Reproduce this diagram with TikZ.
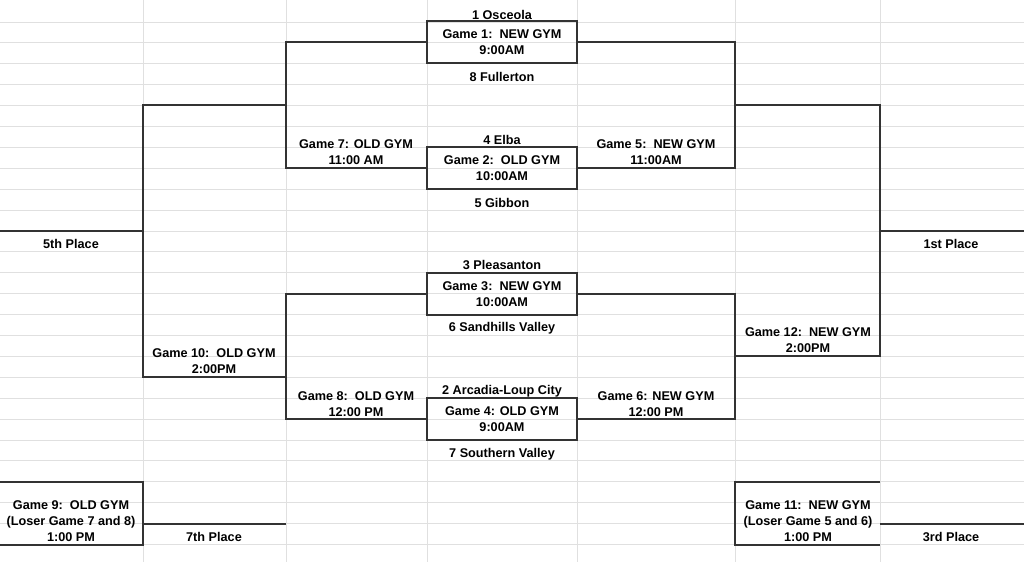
\documentclass[tikz,border=0pt]{standalone}
\usepackage{fontspec}
\setmainfont{Liberation Sans}
\usetikzlibrary{positioning}
\tikzset{
  bracket/.style={draw=black!80,line width=1pt},
  gamebox/.style={bracket,rectangle,minimum width=150*0.75pt,minimum height=42*0.75pt,inner sep=0pt,align=center},
  lbl/.style={font=\bfseries\fontsize{9.5}{12}\selectfont,inner sep=0pt,align=center},
  cellgrid/.style={draw=black!12,line width=0.6pt}
}
\begin{document}
\begin{tikzpicture}[x=0.75pt,y=-0.75pt]
    \useasboundingbox (0,0) rectangle (1024,562);
    % spreadsheet grid
    \foreach \k in {1,...,26} {\draw[cellgrid] (0,{1+20.9*\k}) -- (1024,{1+20.9*\k});}
    \foreach \c in {143,286,427,577,735,880} {\draw[cellgrid] (\c,0) -- (\c,562);}

    % first round
    \node[gamebox,lbl] (g1) at (502,42) {Game 1:\ \ NEW GYM\\9:00AM};
    \node[gamebox,lbl] (g2) at (502,168) {Game 2:\ \ OLD GYM\\10:00AM};
    \node[gamebox,lbl] (g3) at (502,294) {Game 3:\ \ NEW GYM\\10:00AM};
    \node[gamebox,lbl] (g4) at (502,419) {Game 4: OLD GYM\\9:00AM};
    \node[lbl] (t1) at (502,15) {1 Osceola};
    \node[lbl] (t8) at (502,77) {8 Fullerton};
    \node[lbl] (t4) at (502,140) {4 Elba};
    \node[lbl] (t5) at (502,203) {5 Gibbon};
    \node[lbl] (t3) at (502,265) {3 Pleasanton};
    \node[lbl] (t6) at (502,328) {6 Sandhills Valley};
    \node[lbl] (t2) at (502,391) {2 Arcadia-Loup City};
    \node[lbl] (t7) at (502,454) {7 Southern Valley};

    % left side
    \coordinate (c7) at (286,105);
    \coordinate (c8) at (286,357);
    \coordinate (c10) at (143,231);
    \draw[bracket] (g1.west) -| (c7) |- (g2.west);
    \draw[bracket] (g3.west) -| (c8) |- (g4.west);
    \draw[bracket] (c7) -| (c10) |- (c8 |- 0,377);
    \draw[bracket] (c10) -- (0,231);
    \node[lbl] (l7) at (356,152) {Game 7: OLD GYM\\11:00 AM};
    \node[lbl] (l8) at (356,404) {Game 8:\ \ OLD GYM\\12:00 PM};
    \node[lbl] (l10) at (214,361) {Game 10:\ \ OLD GYM\\2:00PM};
    \node[lbl] (p5) at (71,244) {5th Place};

    % right side
    \coordinate (c5) at (735,105);
    \coordinate (c6) at (735,357);
    \coordinate (c12) at (880,231);
    \draw[bracket] (g1.east) -| (c5) |- (g2.east);
    \draw[bracket] (g3.east) -| (c6) |- (g4.east);
    \draw[bracket] (c5) -| (c12) |- (c6 |- 0,356);
    \draw[bracket] (c12) -- (1024,231);
    \node[lbl] (l5) at (656,152) {Game 5:\ \ NEW GYM\\11:00AM};
    \node[lbl] (l6) at (656,404) {Game 6: NEW GYM\\12:00 PM};
    \node[lbl] (l12) at (808,340) {Game 12:\ \ NEW GYM\\2:00PM};
    \node[lbl] (p1) at (951,244) {1st Place};

    % consolation games
    \node[lbl] (l9) at (71,521) {Game 9:\ \ OLD GYM\\(Loser Game 7 and 8)\\1:00 PM};
    \draw[bracket] (0,482) -| (143,545) -- (0,545);
    \draw[bracket] (143,524) -- (286,524);
    \node[lbl] (p7) at (214,537) {7th Place};
    \node[lbl] (l11) at (808,521) {Game 11:\ \ NEW GYM\\(Loser Game 5 and 6)\\1:00 PM};
    \draw[bracket] (880,482) -| (735,545) -- (880,545);
    \draw[bracket] (880,524) -- (1024,524);
    \node[lbl] (p3) at (951,537) {3rd Place};
\end{tikzpicture}
\end{document}
